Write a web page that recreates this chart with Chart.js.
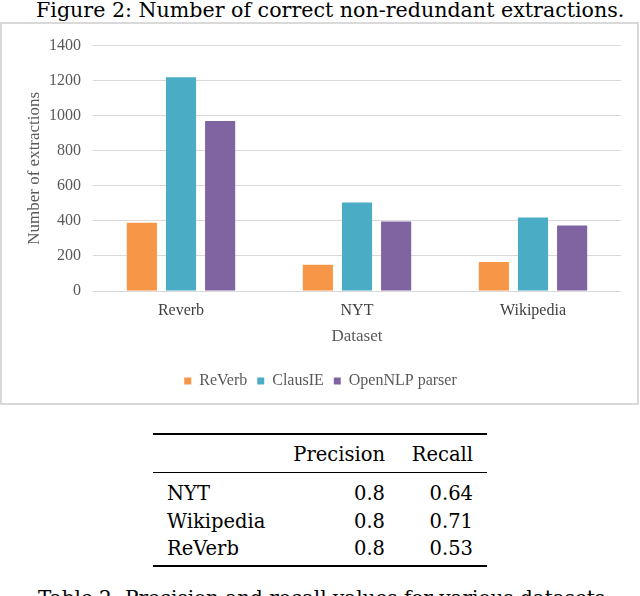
<!DOCTYPE html>
<html>
<head>
<meta charset="utf-8">
<title>Number of correct non-redundant extractions</title>
<script src="https://cdn.jsdelivr.net/npm/chart.js@4.4.1/dist/chart.umd.min.js"></script>
<style>
  body { margin: 0; width: 640px; height: 596px; overflow: hidden; background: #fff; position: relative; }
  .tex { position: absolute; white-space: nowrap; font-family: "DejaVu Serif", serif; color: #000; line-height: 1; }
  #frame { position: absolute; left: 0; top: 22px; width: 639px; height: 383px; border: 2px solid #d9d9d9; box-sizing: border-box; }
  #chartBox { position: absolute; left: 2px; top: 24px; width: 635px; height: 379px; }
  .rule { position: absolute; left: 153px; width: 334px; background: #000; }
</style>
</head>
<body>
<div class="tex" id="figCaption" style="left:36px;top:0px;font-size:20.6px;">Figure 2: Number of correct non-redundant extractions.</div>
<div id="frame"></div>
<div id="chartBox"><canvas id="extractionsChart" width="635" height="379"></canvas></div>

<!-- Table 2 -->
<div class="rule" style="top:433px;height:2px;"></div>
<div class="tex" style="right:255px;top:445px;font-size:19.5px;">Precision</div>
<div class="tex" style="right:167px;top:445px;font-size:19.5px;">Recall</div>
<div class="rule" style="top:472px;height:1px;"></div>
<div id="tableRows"></div>
<div class="rule" style="top:565px;height:2px;"></div>
<div class="tex" style="left:38px;top:588px;font-size:20px;">Table 2: Precision and recall values for various datasets.</div>

<script>
// Chart data
const datasetNames = ['Reverb', 'NYT', 'Wikipedia'];
const reverbCounts = [390, 150, 165];
const clausieCounts = [1220, 505, 420];
const openNlpCounts = [970, 397, 373];
const yTicks = [0, 200, 400, 600, 800, 1000, 1200, 1400];

// Table data
const tableNames = ['NYT', 'Wikipedia', 'ReVerb'];
const precisionValues = ['0.8', '0.8', '0.8'];
const recallValues = ['0.64', '0.71', '0.53'];

const tickGrey = '#595959';
const serif = '"Liberation Serif", "Times New Roman", serif';

function buildTable() {
    const rows = document.getElementById('tableRows');
    tableNames.forEach((name, i) => {
        const top = 484 + i * 27.5;
        const label = document.createElement('div');
        label.className = 'tex';
        label.style.cssText = `left:167px;top:${top}px;font-size:19.5px;`;
        label.textContent = name;
        rows.appendChild(label);

        const prec = document.createElement('div');
        prec.className = 'tex';
        prec.style.cssText = `right:${640 - 385}px;top:${top}px;font-size:19.5px;`;
        prec.textContent = precisionValues[i];
        rows.appendChild(prec);

        const rec = document.createElement('div');
        rec.className = 'tex';
        rec.style.cssText = `right:${640 - 473}px;top:${top}px;font-size:19.5px;`;
        rec.textContent = recallValues[i];
        rows.appendChild(rec);
    });
}

function initializeChart() {
    const ctx = document.getElementById('extractionsChart').getContext('2d');
    new Chart(ctx, {
        type: 'bar',
        data: {
            labels: datasetNames,
            datasets: [
                { label: 'ReVerb', data: reverbCounts, backgroundColor: '#F79646' },
                { label: 'ClausIE', data: clausieCounts, backgroundColor: '#4BACC6' },
                { label: 'OpenNLP parser', data: openNlpCounts, backgroundColor: '#8064A2' }
            ]
        },
        options: {
            responsive: false,
            animation: false,
            layout: { padding: { top: 15, right: 16, left: 18, bottom: 4 } },
            datasets: {
                bar: { categoryPercentage: 0.667, barPercentage: 0.77 }
            },
            scales: {
                x: {
                    grid: { display: false, drawTicks: false },
                    border: { display: false },
                    ticks: { color: '#404040', padding: 10, font: { family: serif, size: 16 } },
                    title: {
                        display: true, text: 'Dataset', color: tickGrey,
                        font: { family: serif, size: 17 }, padding: { top: 4, bottom: 16 }
                    },
                    afterFit: (scale) => { scale.height = 72; }
                },
                y: {
                    min: 0,
                    max: 1400,
                    afterBuildTicks: (scale) => { scale.ticks = yTicks.map(v => ({ value: v })); },
                    grid: { color: '#d9d9d9', drawTicks: false, tickLength: 0 },
                    border: { display: false },
                    ticks: {
                        color: tickGrey, padding: 12, font: { family: serif, size: 16 },
                        callback: (value) => String(value)
                    },
                    title: {
                        display: true, text: 'Number of extractions', color: tickGrey,
                        font: { family: serif, size: 17 }, padding: 4
                    },
                    afterFit: (scale) => { scale.width = 73; }
                }
            },
            plugins: {
                legend: {
                    position: 'bottom',
                    labels: {
                        boxWidth: 7, boxHeight: 7, padding: 10, color: tickGrey,
                        font: { family: serif, size: 16 }
                    }
                },
                tooltip: { enabled: false }
            }
        }
    });
}

document.addEventListener('DOMContentLoaded', () => {
    buildTable();
    initializeChart();
});
</script>
</body>
</html>
